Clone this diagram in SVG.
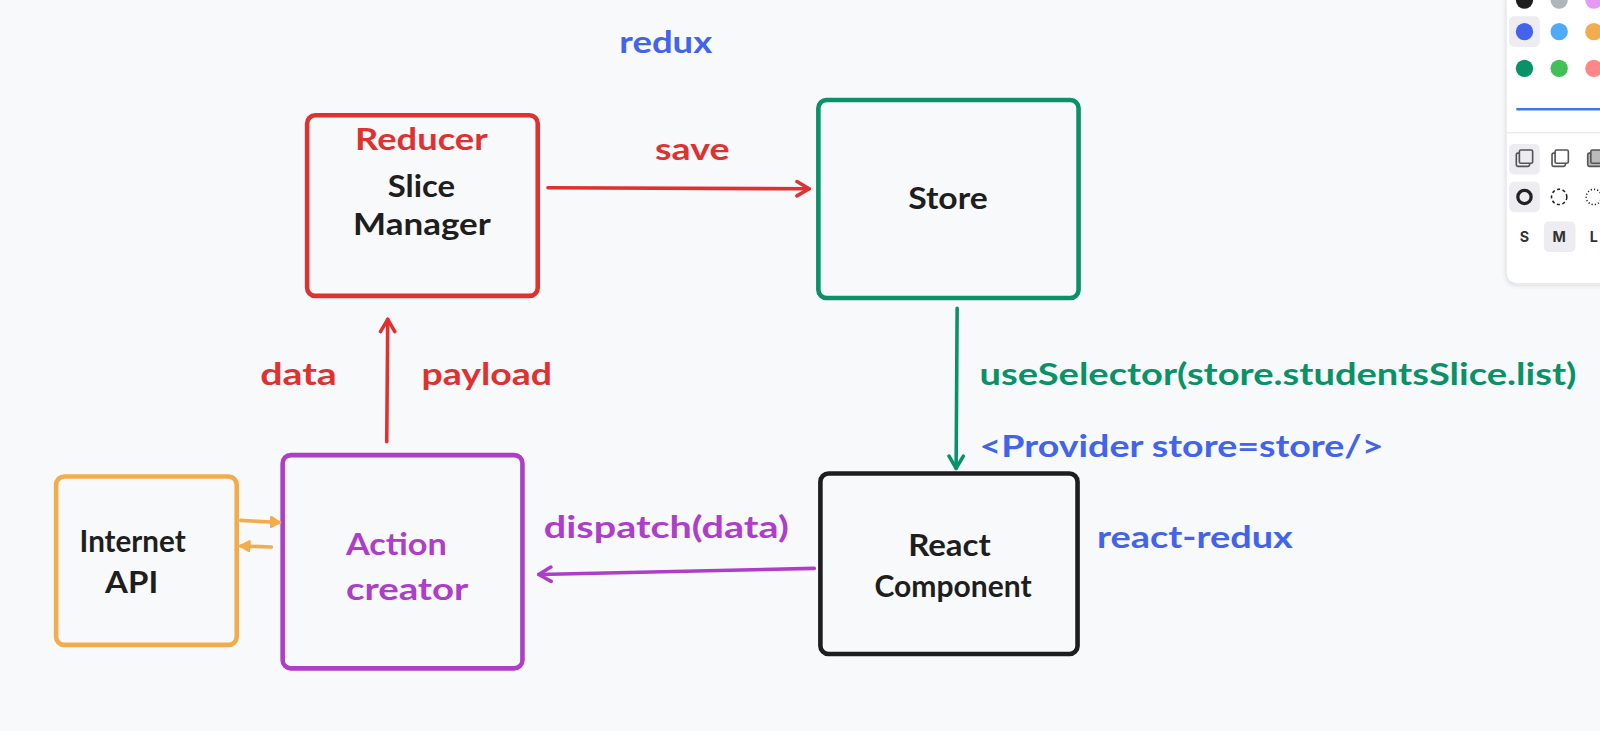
<svg xmlns="http://www.w3.org/2000/svg" width="1600" height="731" viewBox="0 0 1600 731">
<defs>
<style>
.box{fill:none;stroke-width:4.5;stroke-linejoin:round}
.t{font-family:"Lato","Noto Sans",sans-serif;font-weight:700;font-size:29px}
.con{fill:none;stroke-width:3.5;stroke-linecap:round}
.red{stroke:#e03131}.redf{fill:#e03131}
.grn{stroke:#099268}.grnf{fill:#099268}
.pur{stroke:#ae3ec9}.purf{fill:#ae3ec9}
.org{stroke:#f2ac4b}
.blk{stroke:#1e1e1e}.blkf{fill:#1e1e1e}
.bluf{fill:#4263eb}
.tb{font-family:Inter,sans-serif;font-weight:700;font-size:14px;fill:#333;text-anchor:middle}
</style>
<marker id="mRed" markerUnits="userSpaceOnUse" markerWidth="20" markerHeight="20" refX="14" refY="8" orient="auto" viewBox="0 0 20 16"><path d="M2,1 L14,8 L2,15" fill="none" stroke="#e03131" stroke-width="3.5" stroke-linecap="round" stroke-linejoin="round"/></marker>
<marker id="mGrn" markerUnits="userSpaceOnUse" markerWidth="20" markerHeight="20" refX="14" refY="8" orient="auto" viewBox="0 0 20 16"><path d="M2,1 L14,8 L2,15" fill="none" stroke="#099268" stroke-width="3.5" stroke-linecap="round" stroke-linejoin="round"/></marker>
<marker id="mPur" markerUnits="userSpaceOnUse" markerWidth="20" markerHeight="20" refX="14" refY="8" orient="auto" viewBox="0 0 20 16"><path d="M2,1 L14,8 L2,15" fill="none" stroke="#ae3ec9" stroke-width="3.5" stroke-linecap="round" stroke-linejoin="round"/></marker>
<marker id="mOrg" markerUnits="userSpaceOnUse" markerWidth="12" markerHeight="12" refX="8" refY="5" orient="auto" viewBox="0 0 10 10"><path d="M1,1 L8,5 L1,9 Z" fill="#f2ac4b" stroke="#f2ac4b" stroke-width="2" stroke-linejoin="round"/></marker>
<filter id="sh" x="-20%" y="-20%" width="140%" height="140%"><feDropShadow dx="0" dy="1.5" stdDeviation="2" flood-color="#000" flood-opacity="0.12"/></filter>
</defs>
<rect width="1600" height="731" fill="#f8f9fb"/>

<g transform="scale(1.0204)">
<text class="t bluf" x="607" y="52" textLength="91" lengthAdjust="spacingAndGlyphs">redux</text>

<g id="reducer">
<rect class="box red" x="301" y="113" width="226" height="177" rx="8"/>
<text class="t redf" x="348" y="147" textLength="130" lengthAdjust="spacingAndGlyphs">Reducer</text>
<text class="t blkf" x="380" y="193" textLength="66" lengthAdjust="spacingAndGlyphs">Slice</text>
<text class="t blkf" x="346" y="230" textLength="135" lengthAdjust="spacingAndGlyphs">Manager</text>
</g>

<g id="store">
<rect class="box grn" x="802" y="98" width="255" height="194" rx="8"/>
<text class="t blkf" x="890" y="205" textLength="78" lengthAdjust="spacingAndGlyphs">Store</text>
</g>

<g id="internet-api">
<rect class="box org" x="55" y="467" width="177" height="165" rx="8"/>
<text class="t blkf" x="78" y="541" textLength="104" lengthAdjust="spacingAndGlyphs">Internet</text>
<text class="t blkf" x="103" y="581" textLength="52" lengthAdjust="spacingAndGlyphs">API</text>
</g>

<g id="action-creator">
<rect class="box pur" x="277" y="446" width="235" height="209" rx="8"/>
<text class="t purf" x="339" y="544" textLength="99" lengthAdjust="spacingAndGlyphs">Action</text>
<text class="t purf" x="339" y="588" textLength="120" lengthAdjust="spacingAndGlyphs">creator</text>
</g>

<g id="react-component">
<rect class="box blk" x="804" y="464" width="252" height="177" rx="8"/>
<text class="t blkf" x="890" y="545" textLength="81" lengthAdjust="spacingAndGlyphs">React</text>
<text class="t blkf" x="857" y="585" textLength="154" lengthAdjust="spacingAndGlyphs">Component</text>
</g>

<g id="connectors">
<path class="con red" d="M537,184 L793,185" marker-end="url(#mRed)"/>
<path class="con red" d="M379,433 L380,313" marker-end="url(#mRed)"/>
<path class="con grn" d="M938,302 L937,459" marker-end="url(#mGrn)"/>
<path class="con pur" d="M798,557 L528,563" marker-end="url(#mPur)"/>
<path class="con org" d="M236,510 L274,512" marker-end="url(#mOrg)"/>
<path class="con org" d="M266,536 L236,535" marker-end="url(#mOrg)"/>
</g>

<g id="labels">
<text class="t redf" x="642" y="157" textLength="73" lengthAdjust="spacingAndGlyphs">save</text>
<text class="t redf" x="255" y="377" textLength="75" lengthAdjust="spacingAndGlyphs">data</text>
<text class="t redf" x="413" y="377" textLength="128" lengthAdjust="spacingAndGlyphs">payload</text>
<text class="t grnf" x="960" y="377" textLength="585" lengthAdjust="spacingAndGlyphs">useSelector(store.studentsSlice.list)</text>
<text class="t bluf" x="960" y="448" textLength="396" lengthAdjust="spacingAndGlyphs">&lt;Provider store=store/&gt;</text>
<text class="t purf" x="533" y="527" textLength="240" lengthAdjust="spacingAndGlyphs">dispatch(data)</text>
<text class="t bluf" x="1075" y="537" textLength="192" lengthAdjust="spacingAndGlyphs">react-redux</text>
</g>

<g id="toolbar">
<rect x="1476" y="-12" width="140" height="290" rx="10" fill="#ffffff" stroke="#e3e4e8" stroke-width="1" filter="url(#sh)"/>
<circle cx="1494" cy="0" r="8.5" fill="#1e1e1e"/>
<circle cx="1528" cy="0" r="8.5" fill="#adb5bd"/>
<circle cx="1562" cy="0" r="8.5" fill="#e599f7"/>
<rect x="1479" y="16" width="30" height="30" rx="5" fill="#ececf1"/>
<circle cx="1494" cy="31" r="8.5" fill="#4263eb"/>
<circle cx="1528" cy="31" r="8.5" fill="#4dabf7"/>
<circle cx="1562" cy="31" r="8.5" fill="#f2ac4b"/>
<circle cx="1494" cy="67" r="8.5" fill="#099268"/>
<circle cx="1528" cy="67" r="8.5" fill="#40c057"/>
<circle cx="1562" cy="67" r="8.5" fill="#ff8787"/>
<line x1="1486" y1="107" x2="1600" y2="107" stroke="#3b7bd9" stroke-width="2.5"/>
<line x1="1477" y1="130" x2="1600" y2="130" stroke="#ececf1" stroke-width="1.5"/>
<rect x="1479" y="141" width="30" height="30" rx="5" fill="#ececf1"/>
<rect x="1486" y="150" width="13" height="13" rx="1.5" fill="none" stroke="#555" stroke-width="1.6"/>
<rect x="1489" y="147" width="13" height="13" rx="1.5" fill="#ececf1" stroke="#555" stroke-width="1.6"/>
<rect x="1521" y="150" width="13" height="13" rx="1.5" fill="none" stroke="#555" stroke-width="1.6"/>
<rect x="1524" y="147" width="13" height="13" rx="1.5" fill="#fff" stroke="#555" stroke-width="1.6"/>
<rect x="1556" y="150" width="13" height="13" rx="1.5" fill="#bbb" stroke="#555" stroke-width="1.6"/>
<rect x="1559" y="147" width="13" height="13" rx="1.5" fill="#bbb" stroke="#555" stroke-width="1.6"/>
<rect x="1479" y="178" width="30" height="30" rx="5" fill="#ececf1"/>
<circle cx="1494" cy="193" r="6.5" fill="none" stroke="#222" stroke-width="3.2"/>
<circle cx="1528" cy="193" r="7.5" fill="none" stroke="#222" stroke-width="1.5" stroke-dasharray="3 2.5"/>
<circle cx="1562" cy="193" r="7.5" fill="none" stroke="#222" stroke-width="1.5" stroke-dasharray="1.2 2"/>
<rect x="1513" y="217" width="31" height="30" rx="5" fill="#ececf1"/>
<text class="tb" x="1494" y="237">S</text>
<text class="tb" x="1528" y="237">M</text>
<text class="tb" x="1562" y="237">L</text>
</g>
</g>
</svg>
